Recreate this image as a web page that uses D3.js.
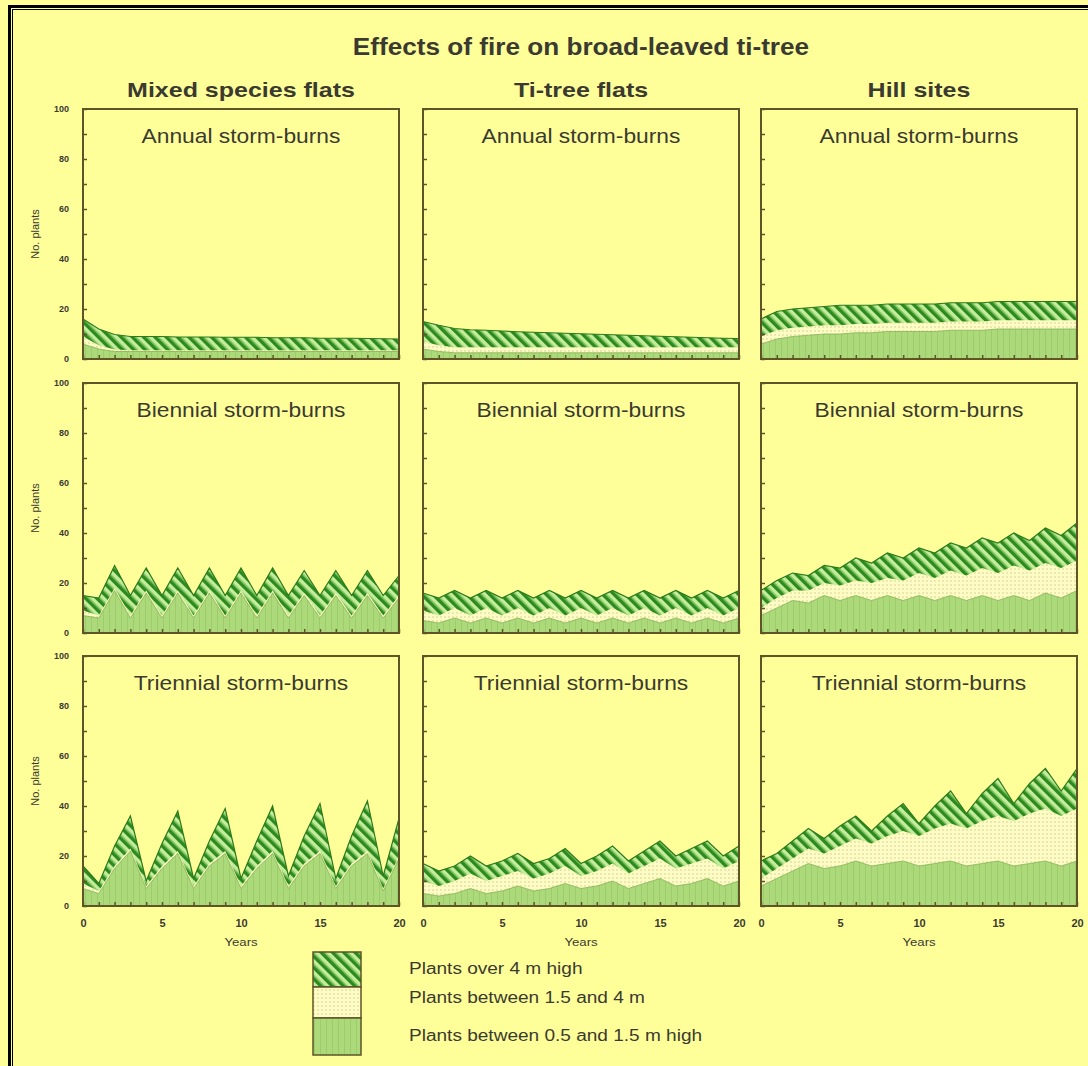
<!DOCTYPE html>
<html>
<head>
<meta charset="utf-8">
<script src="https://cdn.jsdelivr.net/npm/d3@7"></script>
<style>
  html, body { margin: 0; padding: 0; background: #ffff99; }
  svg { display: block; }
  text { font-family: "Liberation Sans", Arial, sans-serif; }
</style>
</head>
<body>
<svg id="chart" width="1088" height="1066"></svg>
<script>
// categories
const years = [0, 1, 2, 3, 4, 5, 6, 7, 8, 9, 10, 11, 12, 13, 14, 15, 16, 17, 18, 19, 20];
const siteNames = ["Mixed species flats", "Ti-tree flats", "Hill sites"];
const burnNames = ["Annual storm-burns", "Biennial storm-burns", "Triennial storm-burns"];
const legendLabels = ["Plants over 4 m high", "Plants between 1.5 and 4 m", "Plants between 0.5 and 1.5 m high"];
const yTicks = [0, 10, 20, 30, 40, 50, 60, 70, 80, 90, 100];
const yLabels = [0, 20, 40, 60, 80, 100];
const xLabels = [0, 5, 10, 15, 20];

// No. plants per size class (low = 0.5-1.5 m, mid = 1.5-4 m, high = over 4 m)
const mixedAnnualLow  = [6, 4, 3, 3, 3, 3, 3, 3, 3, 3, 3, 3, 3, 3, 3, 3, 3, 3, 3, 3, 3];
const mixedAnnualMid  = [3, 1.5, 0.8, 0.5, 0.5, 0.5, 0.5, 0.5, 0.5, 0.5, 0.5, 0.5, 0.5, 0.5, 0.5, 0.5, 0.5, 0.5, 0.5, 0.5, 0.5];
const mixedAnnualHigh = [7, 6.5, 6, 5.5, 5.5, 5.5, 5.3, 5.3, 5.3, 5.2, 5.2, 5.2, 5, 5, 5, 4.8, 4.8, 4.8, 4.7, 4.6, 4.5];

const titreeAnnualLow  = [4, 3, 2.5, 2.5, 2.5, 2.5, 2.5, 2.5, 2.5, 2.5, 2.5, 2.5, 2.5, 2.5, 2.5, 2.5, 2.5, 2.5, 2.5, 2.5, 2.5];
const titreeAnnualMid  = [3, 2.5, 2.2, 2.2, 2.2, 2.2, 2.2, 2.2, 2.2, 2.2, 2.2, 2.2, 2.2, 2.2, 2.2, 2.2, 2.2, 2.2, 2.2, 2.2, 2.2];
const titreeAnnualHigh = [8, 8, 7.5, 7, 6.8, 6.5, 6.2, 6, 5.8, 5.6, 5.4, 5.2, 5, 4.8, 4.6, 4.4, 4.2, 4, 3.8, 3.6, 3.5];

const hillAnnualLow  = [6, 8, 9, 9.5, 10, 10, 10.5, 10.5, 11, 11, 11, 11, 11.5, 11.5, 11.5, 12, 12, 12, 12, 12, 12];
const hillAnnualMid  = [3, 3.5, 3.5, 3.5, 3.5, 3.5, 3.5, 3.5, 3.5, 3.5, 3.5, 3.5, 3.5, 3.5, 3.5, 3.5, 3.5, 3.5, 3.5, 3.5, 3.5];
const hillAnnualHigh = [7, 7.5, 7.5, 7.5, 7.5, 8, 7.5, 7.5, 7.5, 7.5, 7.5, 7.5, 7.5, 7.5, 7.5, 7.5, 7.5, 7.5, 7.5, 7.5, 7.5];

const mixedBiennialLow  = [7, 6, 17, 6, 16, 6, 16, 6, 16, 6, 16, 6, 16, 6, 15, 6, 15, 6, 15, 6, 14];
const mixedBiennialMid  = [2, 1, 1, 1, 1, 1, 1, 1, 1, 1, 1, 1, 1, 1, 1, 1, 1, 1, 1, 1, 1];
const mixedBiennialHigh = [6, 7, 9, 8, 9, 8, 9, 8, 9, 8, 9, 8, 9, 8, 9, 8, 9, 8, 9, 8, 8];

const titreeBiennialLow  = [5, 4, 6, 4, 6, 4, 6, 4, 6, 4, 6, 4, 6, 4, 6, 4, 6, 4, 6, 4, 6];
const titreeBiennialMid  = [4, 3, 4, 3, 4, 3, 4, 3, 4, 3, 4, 3, 4, 3, 4, 3, 4, 3, 4, 3, 4];
const titreeBiennialHigh = [7, 7, 7, 7, 7, 7, 7, 7, 7, 7, 7, 7, 7, 7, 7, 7, 7, 7, 7, 7, 7];

const hillBiennialLow  = [7, 10, 13, 12, 15, 13, 15, 13, 15, 13, 15, 13, 15, 13, 15, 13, 15, 13, 16, 14, 17];
const hillBiennialMid  = [3, 4, 4, 5, 5, 6, 6, 7, 7, 8, 9, 9, 10, 10, 11, 11, 12, 12, 12, 12, 12];
const hillBiennialHigh = [7, 7, 7, 6, 7, 7, 9, 8, 10, 9, 10, 10, 11, 11, 12, 12, 13, 12, 14, 13, 15];

const mixedTriennialLow  = [7, 5, 15, 22, 7, 15, 21, 7, 16, 21, 7, 15, 21, 7, 16, 21, 7, 16, 21, 6, 19];
const mixedTriennialMid  = [2, 1, 1, 1, 1, 1, 1, 1, 1, 1, 1, 1, 1, 1, 1, 1, 1, 1, 1, 1, 1];
const mixedTriennialHigh = [7, 3, 8, 13, 2, 9, 16, 3, 9, 17, 3, 10, 18, 4, 11, 19, 3, 11, 20, 5, 15];

const titreeTriennialLow  = [5, 4, 5, 7, 5, 6, 8, 6, 7, 9, 7, 8, 10, 7, 9, 11, 8, 9, 11, 8, 10];
const titreeTriennialMid  = [5, 4, 5, 6, 5, 6, 6, 5, 6, 7, 5, 6, 7, 6, 7, 8, 7, 8, 8, 7, 8];
const titreeTriennialHigh = [7, 6, 6, 7, 6, 6, 7, 6, 6, 7, 5, 6, 7, 5, 6, 7, 5, 6, 7, 5, 6];

const hillTriennialLow  = [8, 11, 14, 17, 15, 16, 18, 16, 17, 18, 16, 17, 18, 16, 17, 18, 16, 17, 18, 16, 18];
const hillTriennialMid  = [3, 4, 5, 6, 6, 8, 9, 9, 11, 12, 12, 14, 15, 15, 17, 18, 18, 20, 21, 20, 21];
const hillTriennialHigh = [7, 6, 7, 8, 6, 8, 9, 5, 8, 11, 5, 9, 13, 6, 11, 15, 7, 12, 16, 10, 16];

const panelSeries = [
  [[mixedAnnualLow, mixedAnnualMid, mixedAnnualHigh],
   [titreeAnnualLow, titreeAnnualMid, titreeAnnualHigh],
   [hillAnnualLow, hillAnnualMid, hillAnnualHigh]],
  [[mixedBiennialLow, mixedBiennialMid, mixedBiennialHigh],
   [titreeBiennialLow, titreeBiennialMid, titreeBiennialHigh],
   [hillBiennialLow, hillBiennialMid, hillBiennialHigh]],
  [[mixedTriennialLow, mixedTriennialMid, mixedTriennialHigh],
   [titreeTriennialLow, titreeTriennialMid, titreeTriennialHigh],
   [hillTriennialLow, hillTriennialMid, hillTriennialHigh]]
];

const svg = d3.select("#chart");
const colX = [83, 423, 761];
const rowY = [109, 383, 656];
const pw = 316;
const ph = 250;
const frameColor = "#5e5428";
const textColor = "#3a3a30";

// the original lettering is a little wider than Liberation Sans, so stretch it sideways
function wideText(parent, x, y, sx, str) {
  return parent.append("text")
    .attr("transform", "translate(" + x + "," + y + ") scale(" + sx + ",1)")
    .attr("fill", textColor)
    .text(str);
}

// patterns
const defs = svg.append("defs");

const hatch = defs.append("pattern")
  .attr("id", "hatch")
  .attr("patternUnits", "userSpaceOnUse")
  .attr("width", 8)
  .attr("height", 8)
  .attr("patternTransform", "rotate(-45)");
hatch.append("rect").attr("width", 8).attr("height", 8).attr("fill", "#c4ec9c");
hatch.append("rect").attr("x", 0).attr("width", 3.6).attr("height", 8).attr("fill", "#2c8a1e");
hatch.append("rect").attr("x", 3.6).attr("width", 1).attr("height", 8).attr("fill", "#6cbd4c");

const dots = defs.append("pattern")
  .attr("id", "dots")
  .attr("patternUnits", "userSpaceOnUse")
  .attr("width", 4)
  .attr("height", 4);
dots.append("rect").attr("width", 4).attr("height", 4).attr("fill", "#fdfcc4");
dots.append("circle").attr("cx", 2).attr("cy", 2).attr("r", 0.7).attr("fill", "#cfc486");

const green = defs.append("pattern")
  .attr("id", "green")
  .attr("patternUnits", "userSpaceOnUse")
  .attr("width", 6)
  .attr("height", 6);
green.append("rect").attr("width", 6).attr("height", 6).attr("fill", "#acd97a");
green.append("rect").attr("x", 2).attr("width", 1).attr("height", 6).attr("fill", "#9dcc6c");

const fills = ["url(#green)", "url(#dots)", "url(#hatch)"];

// outer border (left and top)
svg.append("line").attr("x1", 9.5).attr("y1", 5).attr("x2", 9.5).attr("y2", 1066)
  .attr("stroke", "#000").attr("stroke-width", 3);
svg.append("line").attr("x1", 12.5).attr("y1", 9).attr("x2", 12.5).attr("y2", 1066)
  .attr("stroke", "#000").attr("stroke-width", 1);
svg.append("line").attr("x1", 8).attr("y1", 6.5).attr("x2", 1088).attr("y2", 6.5)
  .attr("stroke", "#000").attr("stroke-width", 3);
svg.append("line").attr("x1", 12).attr("y1", 9.5).attr("x2", 1088).attr("y2", 9.5)
  .attr("stroke", "#000").attr("stroke-width", 1);

// titles
wideText(svg, colX[1] + pw / 2, 55, 1.09, "Effects of fire on broad-leaved ti-tree")
  .attr("text-anchor", "middle")
  .attr("font-size", 24)
  .attr("font-weight", "bold");

siteNames.forEach((name, c) => {
  wideText(svg, colX[c] + pw / 2, 97, 1.19, name)
    .attr("text-anchor", "middle")
    .attr("font-size", 21)
    .attr("font-weight", "bold");
});

const x = d3.scaleLinear().domain([0, 20]).range([0, pw]);
const y = d3.scaleLinear().domain([0, 100]).range([ph, 0]);

const stack = d3.stack().keys(["low", "mid", "high"]);
const area = d3.area()
  .x((d) => x(d.data.year))
  .y0((d) => y(d[0]))
  .y1((d) => y(d[1]));
const edge = d3.line()
  .x((d) => x(d.data.year))
  .y((d) => y(d[1]));

burnNames.forEach((burn, r) => {
  siteNames.forEach((site, c) => {
    const s = panelSeries[r][c];
    const table = years.map((yr, i) => ({ year: yr, low: s[0][i], mid: s[1][i], high: s[2][i] }));
    const layers = stack(table);

    const g = svg.append("g").attr("transform", "translate(" + colX[c] + "," + rowY[r] + ")");

    g.selectAll(".layer")
      .data(layers)
      .enter()
      .append("path")
      .attr("class", "layer")
      .attr("d", area)
      .attr("fill", (d, i) => fills[i]);

    // boundary lines
    g.append("path")
      .attr("d", edge(layers[0]))
      .attr("fill", "none")
      .attr("stroke", "#7fae55")
      .attr("stroke-width", 0.8);
    g.append("path")
      .attr("d", edge(layers[2]))
      .attr("fill", "none")
      .attr("stroke", "#2c7a1c")
      .attr("stroke-width", 1.2);

    // subtitle
    wideText(g, pw / 2, 34, 1.14, burn)
      .attr("text-anchor", "middle")
      .attr("font-size", 20);

    // axes with inward ticks
    const yAxis = d3.axisLeft(y)
      .tickValues(yTicks)
      .tickSize(-4)
      .tickPadding(14)
      .tickFormat((v) => (c === 0 && yLabels.includes(v) ? v : ""));
    const ya = g.append("g").call(yAxis);
    ya.select(".domain").remove();

    const xAxis = d3.axisBottom(x)
      .tickValues(years)
      .tickSize(-4)
      .tickPadding(13)
      .tickFormat((v) => (r === 2 && xLabels.includes(v) ? v : ""));
    const xa = g.append("g").attr("transform", "translate(0," + ph + ")").call(xAxis);
    xa.select(".domain").remove();

    [ya, xa].forEach((a) => {
      a.selectAll(".tick line").attr("stroke", frameColor).attr("stroke-width", 1.5);
      a.selectAll(".tick text")
        .attr("fill", textColor)
        .attr("font-family", "Liberation Sans, Arial, sans-serif")
        .attr("font-weight", "bold");
    });
    ya.selectAll(".tick text").attr("font-size", 9);
    xa.selectAll(".tick text").attr("font-size", 11);

    // frame
    g.append("rect")
      .attr("width", pw)
      .attr("height", ph)
      .attr("fill", "none")
      .attr("stroke", frameColor)
      .attr("stroke-width", 2);

    if (c === 0) {
      g.append("text")
        .attr("transform", "translate(-44," + ph / 2 + ") rotate(-90)")
        .attr("text-anchor", "middle")
        .attr("font-size", 11)
        .attr("fill", textColor)
        .text("No. plants");
    }
    if (r === 2) {
      wideText(g, pw / 2, ph + 40, 1.2, "Years")
        .attr("text-anchor", "middle")
        .attr("font-size", 11);
    }
  });
});

// legend
const legendTops = [952, 987, 1018];
const legendHeights = [35, 31, 37];
const legendBase = [974, 1003, 1041];
const legendFills = ["url(#hatch)", "url(#dots)", "url(#green)"];
const legend = svg.append("g");
legendLabels.forEach((lab, i) => {
  legend.append("rect")
    .attr("x", 313)
    .attr("y", legendTops[i])
    .attr("width", 48)
    .attr("height", legendHeights[i])
    .attr("fill", legendFills[i])
    .attr("stroke", frameColor)
    .attr("stroke-width", 1.5);
  wideText(legend, 409, legendBase[i], 1.19, lab)
    .attr("font-size", 16);
});
</script>
</body>
</html>
